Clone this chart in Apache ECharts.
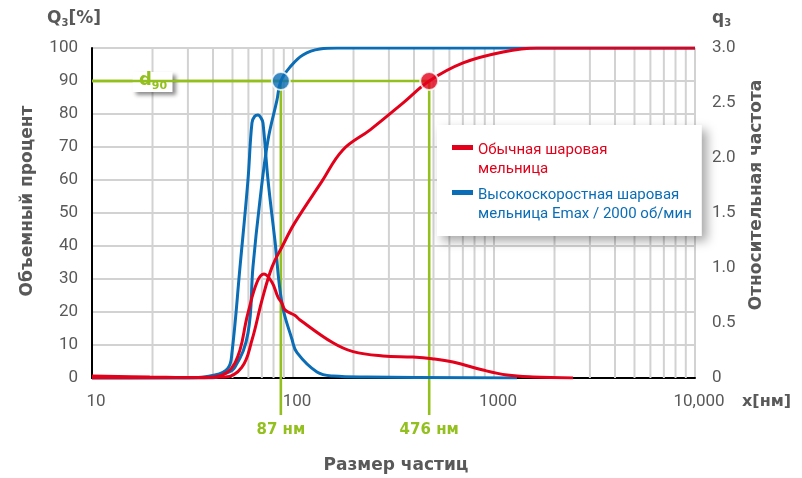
<!DOCTYPE html>
<html><head><meta charset="utf-8">
<script src="https://cdn.jsdelivr.net/npm/echarts@6/dist/echarts.min.js"></script>
<style>html,body{margin:0;padding:0;background:#fff}#c{width:802px;height:478px}</style>
</head><body><div id="c"></div>
<script>
// ---- data (x in nm) ----
const xTicks = [10, 100, 1000, 10000];
const xTickLabels = ['10', '100', '1000', '10,000'];
const minorGridX = [20,30,40,50,60,70,80,90,200,300,400,500,600,700,800,900,2000,3000,4000,5000,6000,7000,8000,9000];
const seriesNames = ['Обычная шаровая\nмельница', 'Высокоскоростная шаровая\nмельница Emax / 2000 об/мин'];
// cumulative Q3 [%] (left axis)
const redCum = [[10,0],[45.9,0.3],[55.7,3.3],[62.5,11.5],[70.1,23.6],[78.6,33.6],[88.1,39.7],[102,47],[139,59.5],[177,69.1],[242,75.2],[352,83.3],[476,90],[702,95.5],[1109,98.8],[1637,100],[10000,100]];
const blueCum = [[10,0],[40,0],[44.3,0.9],[51.4,3.3],[59.7,13.6],[63.2,33.6],[68.5,53.9],[75.1,72.1],[83.2,84.2],[87,90],[96.6,94.2],[112,97.9],[136,99.7],[165.6,100],[10000,100]];
// density q3 (right axis)
const redFreq = [[10,0.018],[19.4,0.009],[34.5,0.003],[40.9,0.009],[51.4,0.135],[59.7,0.59],[66.2,0.87],[71.7,0.945],[78.6,0.87],[84.2,0.735],[88.1,0.68],[91.2,0.62],[102,0.57],[108,0.53],[158,0.32],[199,0.24],[280,0.2],[395,0.19],[492,0.175],[625,0.145],[881,0.072],[1161,0.027],[1563,0.009],[2472,0]];
const blueFreq = [[10,0],[30,0],[40.9,0.027],[47.5,0.09],[49.7,0.23],[54.5,1.01],[59.7,1.8],[62.5,2.32],[64.5,2.38],[67,2.39],[69.5,2.36],[70.9,2.32],[75.1,1.8],[81.3,1.25],[88.1,0.68],[98.9,0.35],[104.7,0.23],[131.6,0.054],[158,0.018],[233,0.009],[1301,0]];
const d90Points = [[87, 90], [476, 90]];
const d90Labels = ['87 нм', '476 нм'];
const d90BoxX = 20;

const RED = '#e2001a', BLUE = '#0a6db5', GREEN = '#93c01f', GRAY = '#595959', GRID = '#d2d2d2';
const SANS = 'Roboto, sans-serif';
const BOLD = '"DejaVu Sans", sans-serif';

const lineSeries = (name, axis, data, color) => ({
  type: 'line', name, yAxisIndex: axis, data, smooth: 0.4, showSymbol: false, symbol: 'none',
  lineStyle: { color, width: 3 }, itemStyle: { color }, z: 3
});

const chart = echarts.init(document.getElementById('c'));
chart.setOption({
  animation: false,
  grid: { left: 92, right: 107, top: 48, bottom: 100 },
  xAxis: {
    type: 'log', logBase: 10, min: 10, max: 10000,
    axisLine: { lineStyle: { color: '#000', width: 2 } },
    axisTick: { show: false },
    axisLabel: {
      color: GRAY, fontSize: 17, fontFamily: SANS, margin: 15, padding: [0, 0, 0, 8],
      formatter: v => { const i = xTicks.indexOf(Math.round(v)); return i >= 0 ? xTickLabels[i] : ''; }
    },
    splitLine: { show: true, lineStyle: { color: GRID, width: 2 } }
  },
  yAxis: [{
    type: 'value', min: 0, max: 100, interval: 10,
    axisLine: { show: true, lineStyle: { color: '#000', width: 2 } },
    axisTick: { show: false },
    axisLabel: { color: GRAY, fontSize: 17, fontFamily: SANS, margin: 14 },
    splitLine: { show: true, lineStyle: { color: GRID, width: 2 } }
  }, {
    type: 'value', min: 0, max: 3, interval: 0.5, position: 'right',
    axisLine: { show: false }, axisTick: { show: false },
    axisLabel: { color: GRAY, fontSize: 17, fontFamily: SANS, margin: 17,
      formatter: v => v === 0 ? '0' : v.toFixed(1) },
    splitLine: { show: false }
  }],
  legend: {
    orient: 'vertical', left: 437, top: 125,
    padding: [16, 10, 12, 15], itemGap: 7,
    itemWidth: 21, itemHeight: 30,
    icon: 'path://M0,0L21,0L21,5L0,5Z M0,30L0.001,30L0.001,30.001Z',
    backgroundColor: '#fff', shadowBlur: 10, shadowColor: 'rgba(0,0,0,0.35)', shadowOffsetX: 5, shadowOffsetY: 5,
    textStyle: { fontFamily: SANS, fontSize: 15, lineHeight: 19 },
    data: [
      { name: seriesNames[0], textStyle: { color: RED } },
      { name: seriesNames[1], textStyle: { color: BLUE } }
    ]
  },
  series: [
    { // minor vertical gridlines
      type: 'custom', name: 'grid', silent: true, z: 1,
      data: minorGridX.map(v => [v]),
      encode: { x: 0 },
      renderItem: (params, api) => {
        const a = api.coord([api.value(0), 0]);
        const b = api.coord([api.value(0), 100]);
        return { type: 'line', shape: { x1: a[0], y1: a[1], x2: b[0], y2: b[1] }, style: { stroke: GRID, lineWidth: 2 } };
      }
    },
    { // d90 guides
      type: 'custom', name: 'd90', silent: true, clip: false, z: 2,
      data: d90Points,
      encode: { x: 0, y: 1 },
      renderItem: (params, api) => {
        const x = api.value(0), y = api.value(1);
        const p = api.coord([x, y]);
        const p0 = api.coord([10, y]);
        const base = api.coord([x, 0]);
        const ch = [
          { type: 'line', shape: { x1: p0[0], y1: p[1], x2: p[0], y2: p[1] }, style: { stroke: GREEN, lineWidth: 2.6 } },
          { type: 'line', shape: { x1: p[0], y1: p[1], x2: p[0], y2: base[1] + 37 }, style: { stroke: GREEN, lineWidth: 2.6 } },
          { type: 'text', style: { text: d90Labels[params.dataIndex], x: p[0], y: base[1] + 52, align: 'center', verticalAlign: 'middle', fill: GREEN, font: 'bold 15px ' + BOLD } }
        ];
        if (params.dataIndex === 0) {
          const c = api.coord([d90BoxX, y]);
          ch.push({ type: 'rect', shape: { x: c[0] - 20, y: c[1] - 9, width: 40, height: 20 },
            style: { fill: '#fff', shadowBlur: 4, shadowColor: 'rgba(0,0,0,0.45)', shadowOffsetX: 3, shadowOffsetY: 3 } });
          ch.push({ type: 'text', style: { text: 'd', x: c[0] - 7, y: c[1] - 1, align: 'center', verticalAlign: 'middle', fill: GREEN, font: 'bold 18px ' + BOLD } });
          ch.push({ type: 'text', style: { text: '90', x: c[0] + 7, y: c[1] + 5, align: 'center', verticalAlign: 'middle', fill: GREEN, font: 'bold 11px ' + BOLD } });
        }
        return { type: 'group', children: ch };
      }
    },
    lineSeries(seriesNames[1], 1, blueFreq, BLUE),
    lineSeries(seriesNames[1], 0, blueCum, BLUE),
    lineSeries(seriesNames[0], 1, redFreq, RED),
    lineSeries(seriesNames[0], 0, redCum, RED),
    { type: 'scatter', name: 'd90 points', yAxisIndex: 0, data: [
        { value: d90Points[0], itemStyle: { color: BLUE } },
        { value: d90Points[1], itemStyle: { color: RED } }
      ], symbolSize: 18, itemStyle: { borderColor: '#fff', borderWidth: 2 }, z: 5, silent: true }
  ],
  graphic: [
    { type: 'text', left: 47, top: 10, style: { text: '{a|Q}{b|3}{a|[%]}', rich: {
        a: { font: 'bold 17px ' + BOLD, fill: GRAY, lineHeight: 20 },
        b: { font: 'bold 10px ' + BOLD, fill: GRAY, verticalAlign: 'bottom', lineHeight: 12 } } } },
    { type: 'text', left: 712, top: 10, style: { text: '{a|q}{b|3}', rich: {
        a: { font: 'bold 17px ' + BOLD, fill: GRAY, lineHeight: 20 },
        b: { font: 'bold 10px ' + BOLD, fill: GRAY, verticalAlign: 'bottom', lineHeight: 12 } } } },
    { type: 'text', x: 28, y: 201, rotation: Math.PI / 2, style: { text: 'Объемный процент', align: 'center', verticalAlign: 'middle', font: 'bold 17px ' + BOLD, fill: GRAY } },
    { type: 'text', x: 757, y: 195, rotation: Math.PI / 2, style: { text: 'Относительная частота', align: 'center', verticalAlign: 'middle', font: 'bold 17px ' + BOLD, fill: GRAY } },
    { type: 'text', x: 396, y: 466, style: { text: 'Размер частиц', align: 'center', verticalAlign: 'middle', font: 'bold 17px ' + BOLD, fill: GRAY } },
    { type: 'text', x: 742, y: 402, style: { text: 'x[нм]', align: 'left', verticalAlign: 'middle', font: 'bold 16px ' + BOLD, fill: GRAY } }
  ]
});
</script>
</body></html>
